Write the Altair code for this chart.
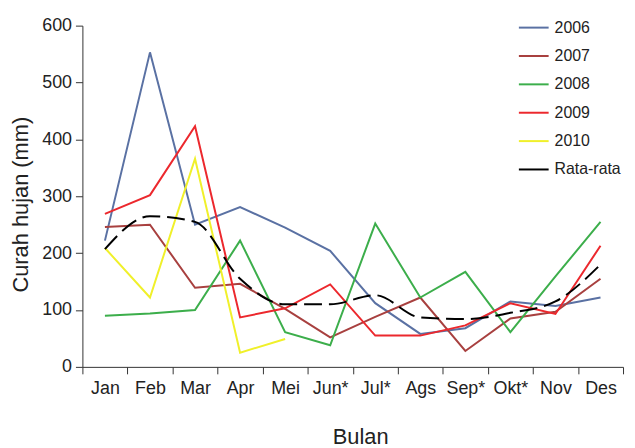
import altair as alt
import pandas as pd

# Bulan (month labels) and rainfall values (mm)
bulan = ["Jan", "Feb", "Mar", "Apr", "Mei", "Jun*", "Jul*", "Ags", "Sep*", "Okt*", "Nov", "Des"]
y2006 = [222, 553, 250, 281, 245, 204, 112, 58, 68, 115, 107, 122]
y2007 = [246, 250, 139, 146, 102, 52, 88, 122, 28, 85, 97, 155]
y2008 = [90, 94, 100, 222, 61, 38, 252, 122, 167, 61, 159, 255]
y2009 = [269, 302, 423, 87, 103, 145, 55, 55, 73, 112, 93, 213]
y2010 = [209, 122, 366, 25, 49]
rata_rata = [207, 265, 255, 155, 110, 110, 126, 87, 84, 95, 115, 180]

series_names = ["2006", "2007", "2008", "2009", "2010", "Rata-rata"]
series_colors = ["#5a71a3", "#a8403f", "#3cae4b", "#ec282d", "#f0f02a", "#000000"]
series_widths = [2, 2, 2, 2, 2, 5]

rows = []
for name, vals in zip(series_names[:5], [y2006, y2007, y2008, y2009, y2010]):
    for b, v in zip(bulan, vals):
        rows.append({"bulan": b, "nilai": v, "seri": name})
years_df = pd.DataFrame(rows)
avg_df = pd.DataFrame({"bulan": bulan, "nilai": rata_rata, "seri": "Rata-rata"})

font = "Liberation Sans"

x_enc = alt.X("bulan:N", sort=bulan, scale=alt.Scale(paddingInner=0, paddingOuter=0),
              axis=alt.Axis(title="Bulan", labelAngle=0, ticks=True, tickBand="extent",
                            labelPadding=6, titleX=280, titleY=70, titleBaseline="middle"))
y_enc = alt.Y("nilai:Q", scale=alt.Scale(domain=[0, 600], nice=False),
              axis=alt.Axis(title="Curah hujan (mm)", values=[0, 100, 200, 300, 400, 500, 600],
                            titleX=-50, titleY=180, titleBaseline="bottom"))
color_enc = alt.Color("seri:N", scale=alt.Scale(domain=series_names, range=series_colors),
                      legend=alt.Legend(title=None, orient="none", legendX=439, legendY=-14))
width_enc = alt.StrokeWidth("seri:N", scale=alt.Scale(domain=series_names, range=series_widths))

years = alt.Chart(years_df).mark_line().encode(
    x=x_enc, y=y_enc, color=color_enc, strokeWidth=width_enc, detail="seri:N"
)
avg = alt.Chart(avg_df).mark_line(strokeDash=[18, 7], interpolate="monotone").encode(
    x=x_enc, y=y_enc, color=color_enc, strokeWidth=width_enc
)

chart = (years + avg).properties(
    width=545, height=344,
    autosize=alt.AutoSizeParams(type="none"),
    padding={"left": 75, "top": 16, "right": 4, "bottom": 80},
).configure_view(stroke=None).configure_axis(
    grid=False, domainColor="#333333", tickColor="#333333", tickSize=7,
    labelFont=font, labelFontSize=18, labelColor="#222222", labelPadding=4,
    titleFont=font, titleFontSize=22, titleFontWeight="normal", titleColor="#222222",
).configure_legend(
    labelFont=font, labelFontSize=16, labelColor="#222222", symbolType="stroke",
    symbolSize=900, rowPadding=4.6, labelOffset=5, padding=0,
)

chart.save("out.html", embed_options={"renderer": "svg", "actions": False})
